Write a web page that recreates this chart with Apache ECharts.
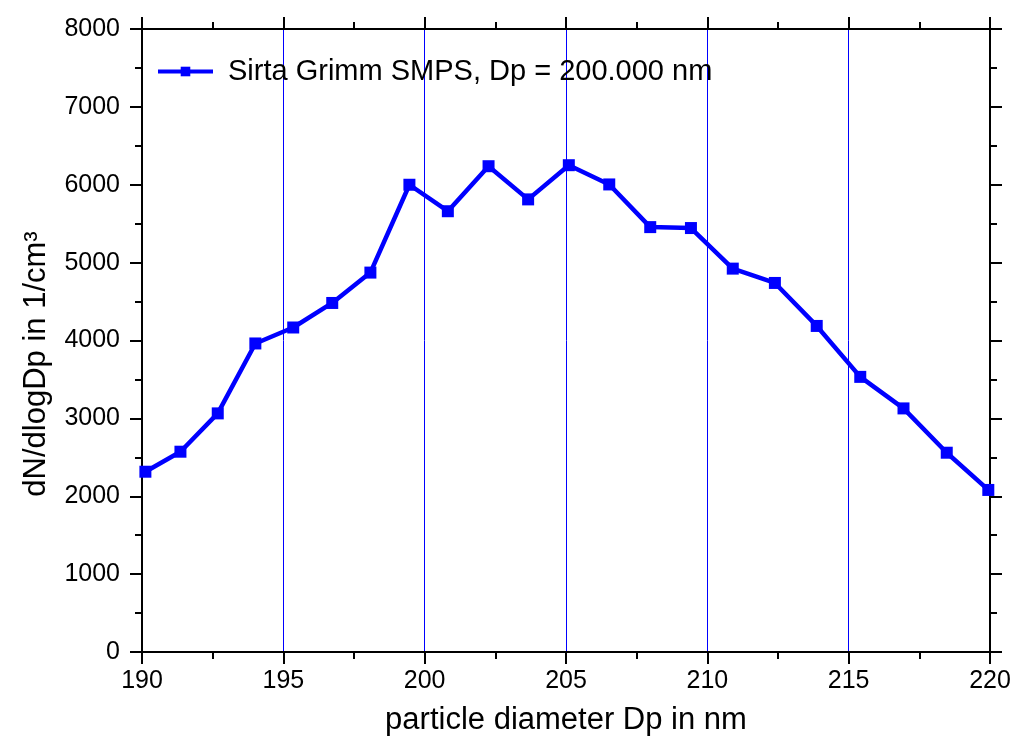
<!DOCTYPE html>
<html>
<head>
<meta charset="utf-8">
<script src="https://cdn.jsdelivr.net/npm/echarts@6/dist/echarts.min.js"></script>
<style>
html,body{margin:0;padding:0;background:#fff;}
#chart{width:1016px;height:747px;}
</style>
</head>
<body>
<div id="chart"></div>
<script>
// Data
var diameters = [190.12,191.36,192.68,194.01,195.35,196.73,198.08,199.46,200.82,202.26,203.66,205.10,206.53,207.98,209.42,210.90,212.39,213.87,215.41,216.94,218.47,219.94];
var dNdlogDp  = [2315,2572,3064,3962,4167,4482,4872,6000,5660,6238,5812,6251,6004,5456,5444,4923,4739,4187,3533,3128,2559,2081];
var seriesName = 'Sirta Grimm SMPS, Dp = 200.000 nm';
var xTitle = 'particle diameter Dp in nm';
var yTitle = 'dN/dlogDp in 1/cm\u00B3';

var FONT = 'Liberation Sans, Arial, Helvetica, sans-serif';
var chart = echarts.init(document.getElementById('chart'), null, {renderer:'canvas'});
var pts = diameters.map(function(d,i){ return [d, dNdlogDp[i]]; });

var tickStyle = {show:true, inside:false, length:12, lineStyle:{color:'#000', width:2}};
var minorStyle = {show:true, splitNumber:2, length:7, lineStyle:{color:'#000', width:2}};
var lineStyle = {show:true, onZero:false, lineStyle:{color:'#000', width:2}};
var plain = function(v){ return String(v); };

chart.setOption({
  animation:false,
  backgroundColor:'#fff',
  grid:{left:142, right:26, top:29, bottom:95, containLabel:false},
  legend:{
    show:true, left:151, top:52, orient:'vertical',
    itemWidth:55, itemHeight:12,
    lineStyle:{width:4},
    textStyle:{fontSize:29, color:'#000', fontFamily:FONT, padding:[0,0,0,10]},
    data:[seriesName]
  },
  xAxis:[{
    type:'value', position:'bottom', min:190, max:220, interval:5,
    axisLine:lineStyle, axisTick:tickStyle, minorTick:minorStyle,
    splitLine:{show:true, lineStyle:{color:'#0000ff', width:1}},
    axisLabel:{show:true, margin:17, fontSize:25, color:'#000', fontFamily:FONT, formatter:plain},
    name:xTitle, nameLocation:'middle', nameGap:53,
    nameTextStyle:{fontSize:31, color:'#000', fontFamily:FONT}
  },{
    type:'value', position:'top', min:190, max:220, interval:5,
    axisLine:lineStyle, axisTick:tickStyle, minorTick:minorStyle,
    splitLine:{show:false}, axisLabel:{show:false}
  }],
  yAxis:[{
    type:'value', position:'left', min:0, max:8000, interval:1000,
    axisLine:lineStyle, axisTick:tickStyle, minorTick:minorStyle,
    splitLine:{show:false},
    axisLabel:{show:true, margin:22, fontSize:25, color:'#000', fontFamily:FONT, formatter:plain}
  },{
    type:'value', position:'right', min:0, max:8000, interval:1000,
    axisLine:lineStyle, axisTick:tickStyle, minorTick:minorStyle,
    splitLine:{show:false}, axisLabel:{show:false}
  }],
  graphic:[{
    type:'text', x:36, y:364, rotation:Math.PI/2,
    style:{text:yTitle, fontSize:31, fill:'#000', fontFamily:FONT, textAlign:'center', textVerticalAlign:'middle'}
  }],
  series:[{
    name:seriesName, type:'line', xAxisIndex:0, yAxisIndex:0,
    data:pts, symbol:'rect', symbolSize:12,
    itemStyle:{color:'#0000ff'},
    lineStyle:{color:'#0000ff', width:4.5},
    z:5
  }]
});
</script>
</body>
</html>
